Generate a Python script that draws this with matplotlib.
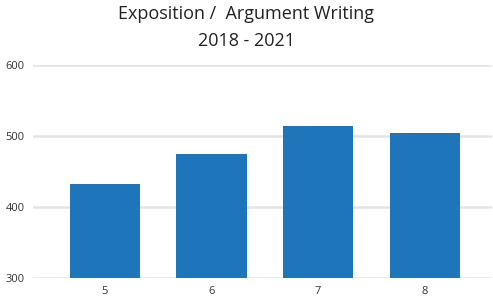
import matplotlib
matplotlib.use("Agg")
import matplotlib.pyplot as plt

# data
grades = ["5", "6", "7", "8"]
scores = [432, 474, 514, 504]
yticks = [300, 400, 500, 600]

plt.rcParams['font.family'] = ['Open Sans', 'DejaVu Sans']

fig = plt.figure(figsize=(4.93, 3.03), dpi=100)
ax = fig.add_axes([33/493, 1-277.7/303, 459/493, (277.7-65)/303])

x = range(len(grades))
ax.bar(x, [s - 300 for s in scores], bottom=300, width=0.66, color="#1f75ba", zorder=3)

ax.set_ylim(300, 600)
ax.set_xlim(-0.675, 3.63)
ax.set_yticks(yticks)
ax.set_xticks(list(x))
ax.set_xticklabels(grades)
ax.grid(axis="y", color="#e4e4e4", linewidth=1.8, zorder=0)
ax.set_axisbelow(True)
for s in ax.spines.values():
    s.set_visible(False)
ax.tick_params(axis="both", length=0, labelsize=8, colors="#333333")
ax.tick_params(axis="y", pad=6)
ax.tick_params(axis="x", pad=6)

fig.text(0.5, 1-14/303, "Exposition /  Argument Writing", ha="center", va="center",
         fontsize=13, color="#222222")
fig.text(0.5, 1-41/303, "2018 - 2021", ha="center", va="center",
         fontsize=13, color="#222222")

fig.savefig("out.png", dpi=100)
